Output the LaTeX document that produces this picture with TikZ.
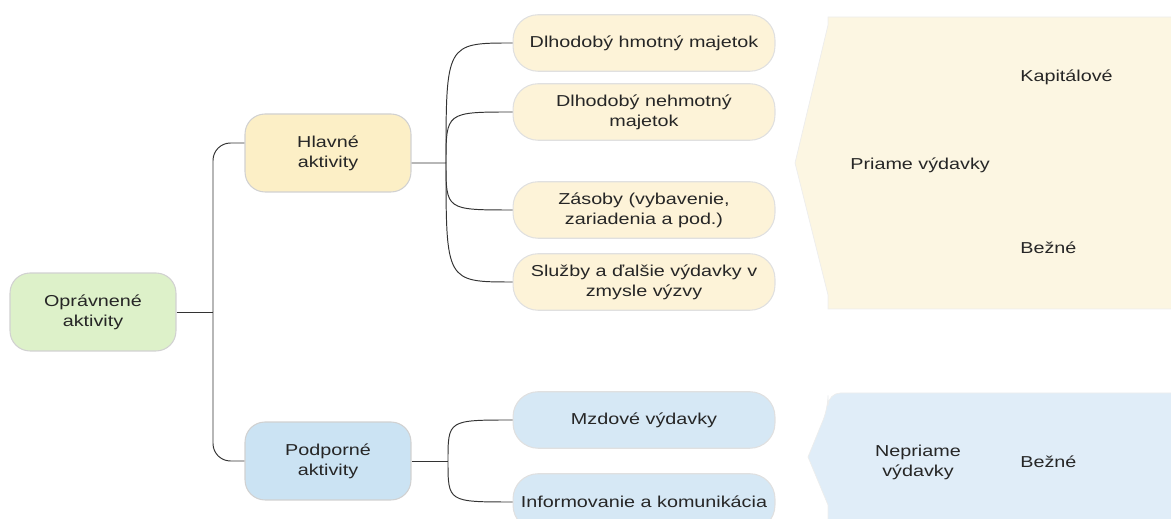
\documentclass[tikz,border=0pt]{standalone}
\usepackage{fontspec}
\setmainfont[FakeStretch=1.25]{Liberation Sans}
\definecolor{zelena}{HTML}{DDF1C9}
\definecolor{zlta}{HTML}{FCEFC6}
\definecolor{zltasv}{HTML}{FDF3D8}
\definecolor{zltaplocha}{HTML}{FCF6E2}
\definecolor{modra}{HTML}{CBE3F3}
\definecolor{modrasv}{HTML}{D6E8F5}
\definecolor{modraplocha}{HTML}{E0EDF8}
\begin{document}
\begin{tikzpicture}[x=0.02cm,y=-0.02cm,font=\fontsize{9}{11.4}\selectfont,
	uzol/.style={draw=black!18,line width=0.6pt,rounded corners=0.4cm,minimum width=3.32cm,minimum height=1.56cm,align=center,text=black!85},
	list/.style={draw=black!12,line width=0.6pt,rounded corners=0.5cm,minimum width=5.24cm,minimum height=1.13cm,align=center,text=black!85},
	spoj/.style={draw=black!80,line width=0.55pt},
	popis/.style={anchor=west,inner sep=0pt,text=black!85}]
	\useasboundingbox (0,0) rectangle (1171,519);
	\clip (0,0) rectangle (1171,519);
	% plochy vpravo
	\draw[fill=zltaplocha,draw=black!7] (1180,17) -- (828,17) -- (828,25) -- (795,163) -- (828,295) -- (828,309) -- (1180,309);
	\draw[fill=modraplocha,draw=black!7] (1180,393) {[rounded corners=0.25cm] -- (828,393) -- (828,408)} -- (808,457) -- (828,505) -- (828,530) -- (1180,530);
	\node[popis] (kap) at (1020,77) {Kapitálové};
	\node[popis] (pri) at (850,165) {Priame výdavky};
	\node[popis] (bez1) at (1020,248) {Bežné};
	\node[align=center,text=black!85] (nep) at (918,462) {Nepriame\\výdavky};
	\node[popis] (bez2) at (1020,462) {Bežné};
	% uzly
	\node[uzol,fill=zelena] (opr) at (93,312) {Oprávnené\\aktivity};
	\node[uzol,fill=zlta] (hl) at (328,153) {Hlavné\\aktivity};
	\node[uzol,fill=modra] (po) at (328,461) {Podporné\\aktivity};
	\node[list,fill=zltasv] (dhm) at (644,43) {Dlhodobý hmotný majetok};
	\node[list,fill=zltasv] (dnm) at (644,112) {Dlhodobý nehmotný\\majetok};
	\node[list,fill=zltasv] (zas) at (644,210) {Zásoby (vybavenie,\\zariadenia a pod.)};
	\node[list,fill=zltasv] (slu) at (644,282) {Služby a ďalšie výdavky v\\zmysle výzvy};
	\node[list,fill=modrasv] (mzd) at (644,420) {Mzdové výdavky};
	\node[list,fill=modrasv] (inf) at (644,502) {Informovanie a komunikácia};
	% spojnice
	\coordinate (r1) at (213,312);
	\coordinate (r2) at (446,163);
	\coordinate (r3) at (448,461);
	\draw[spoj] (opr) -- (r1);
	\draw[spoj,rounded corners=0.35cm] (r1) |- ([yshift=0.2cm]hl.west);
	\draw[spoj,rounded corners=0.35cm] (r1) |- (po.west);
	\draw[spoj] ([yshift=-0.2cm]hl.east) -- (r2);
	\foreach \c in {dhm,dnm,zas,slu}
		\draw[spoj] (r2) .. controls (r2 |- \c.west) and (r2 |- \c.west) .. (\c.west);
	\draw[spoj] (po) -- (r3);
	\foreach \c in {mzd,inf}
		\draw[spoj] (r3) .. controls (r3 |- \c.west) and (r3 |- \c.west) .. (\c.west);
\end{tikzpicture}
\end{document}
